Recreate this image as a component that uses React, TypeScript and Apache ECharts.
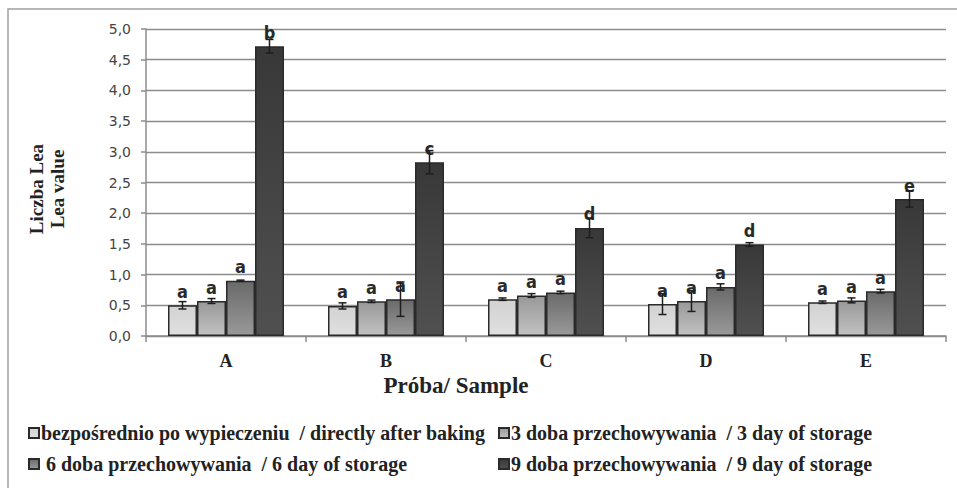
import React, { useEffect, useRef } from "react";
import * as echarts from "echarts";

const categories = ["A", "B", "C", "D", "E"];
const seriesNames = [
  "bezpośrednio po wypieczeniu  / directly after baking",
  "3 doba przechowywania  / 3 day of storage",
  " 6 doba przechowywania  / 6 day of storage",
  "9 doba przechowywania  / 9 day of storage",
];
const values0 = [0.5, 0.49, 0.6, 0.52, 0.55];
const values1 = [0.57, 0.565, 0.66, 0.57, 0.58];
const values2 = [0.9, 0.6, 0.71, 0.8, 0.73];
const values3 = [4.72, 2.83, 1.76, 1.49, 2.23];
const errors0 = [0.06, 0.05, 0.02, 0.17, 0.02];
const errors1 = [0.04, 0.02, 0.03, 0.17, 0.04];
const errors2 = [0.01, 0.28, 0.02, 0.05, 0.03];
const errors3 = [0.11, 0.19, 0.16, 0.03, 0.13];
const letters0 = ["a", "a", "a", "a", "a"];
const letters1 = ["a", "a", "a", "a", "a"];
const letters2 = ["a", "a", "a", "a", "a"];
const letters3 = ["b", "c", "d", "d", "e"];
const yTicks = ["0,0", "0,5", "1,0", "1,5", "2,0", "2,5", "3,0", "3,5", "4,0", "4,5", "5,0"];

const allValues = [values0, values1, values2, values3];
const allErrors = [errors0, errors1, errors2, errors3];
const allLetters = [letters0, letters1, letters2, letters3];

const CAT_GAP = 0.275;

export default function App() {
  const ref = useRef<HTMLDivElement>(null);
  useEffect(() => {
    if (!ref.current) return;
    const chart = echarts.init(ref.current, null, { renderer: "svg" });
    const grad = (a: string, b: string) =>
      new echarts.graphic.LinearGradient(0, 0, 0, 1, [
        { offset: 0, color: a },
        { offset: 1, color: b },
      ]);
    const fills = [
      grad("#d2d2d2", "#e0e0e0"),
      grad("#989898", "#c2c2c2"),
      grad("#6a6a6a", "#999999"),
      grad("#383838", "#505050"),
    ];
    const serif = "Liberation Serif";
    const barSeries = allValues.map((vals, si) => ({
      type: "bar",
      name: seriesNames[si],
      data: vals,
      barGap: "0%",
      barCategoryGap: (CAT_GAP * 100).toFixed(1) + "%",
      itemStyle: { color: fills[si], borderColor: "#2a2a2a", borderWidth: 1.5 },
      label: {
        show: true,
        position: "top",
        distance: 5,
        formatter: (p: any) => allLetters[si][p.dataIndex],
        fontFamily: "DejaVu Sans Condensed",
        fontWeight: 600,
        fontSize: 18,
        color: "#2a2a2a",
      },
    }));
    const errData: number[][] = [];
    allValues.forEach((vals, si) =>
      vals.forEach((v, ci) => errData.push([ci, si, v, allErrors[si][ci]]))
    );
    const errSeries = {
      type: "custom",
      name: "err",
      data: errData,
      z: 10,
      encode: { x: 0, y: 2 },
      renderItem: (params: any, api: any) => {
        const ci = api.value(0);
        const si = api.value(1);
        const v = api.value(2);
        const e = api.value(3);
        const band = api.size([1, 0])[0];
        const bw = (band * (1 - CAT_GAP)) / 4;
        const c = api.coord([ci, v]);
        const x = c[0] + (si - 1.5) * bw;
        const yt = api.coord([ci, v + e])[1];
        const yb = api.coord([ci, v - e])[1];
        const st = { stroke: "#1e1e1e", lineWidth: 1.5 };
        return {
          type: "group",
          children: [
            { type: "line", shape: { x1: x, y1: yt, x2: x, y2: yb }, style: st },
            { type: "line", shape: { x1: x - 4, y1: yt, x2: x + 4, y2: yt }, style: st },
            { type: "line", shape: { x1: x - 4, y1: yb, x2: x + 4, y2: yb }, style: st },
          ],
        };
      },
    };
    const legendPos = [
      { left: 28, top: 423 },
      { left: 498, top: 423 },
      { left: 28, top: 454 },
      { left: 498, top: 454 },
    ];
    const legends = seriesNames.map((n, i) => ({
      data: [n],
      left: legendPos[i].left,
      top: legendPos[i].top,
      orient: "horizontal",
      itemWidth: 10,
      itemHeight: 10,
      itemGap: 0,
      padding: 0,
      selectedMode: false,
      icon: "rect",
      textStyle: { fontFamily: serif, fontWeight: "bold", fontSize: 20, color: "#222", padding: [0, 0, 0, -3] },
    }));
    chart.setOption({
      animation: false,
      backgroundColor: "#ffffff",
      grid: { left: 146, right: 11, top: 29, bottom: 152, containLabel: false },
      legend: legends,
      xAxis: {
        type: "category",
        data: categories,
        axisLine: { show: true, lineStyle: { color: "#8c8c8c", width: 1.5 } },
        axisTick: { show: true, alignWithLabel: false, length: 6, lineStyle: { color: "#8c8c8c", width: 1.5 } },
        axisLabel: { fontFamily: serif, fontWeight: "bold", fontSize: 18, color: "#222", margin: 16 },
      },
      yAxis: {
        type: "value",
        min: 0,
        max: 5,
        interval: 0.5,
        axisLine: { show: true, lineStyle: { color: "#8c8c8c", width: 1.5 } },
        axisTick: { show: true, length: 5, lineStyle: { color: "#8c8c8c", width: 1.5 } },
        splitLine: { show: true, lineStyle: { color: "#8c8c8c", width: 1.3 } },
        axisLabel: {
          fontFamily: "DejaVu Sans",
          fontSize: 14,
          color: "#444",
          margin: 15,
          formatter: (v: number) => yTicks[Math.round(v / 0.5)],
        },
      },
      graphic: [
        {
          type: "rect",
          shape: { x: 8, y: 9, width: 1000, height: 600 },
          style: { fill: "none", stroke: "#a0a0a0", lineWidth: 1.5 },
          silent: true,
          z: -10,
        },
        {
          type: "text",
          x: 47,
          y: 189,
          rotation: Math.PI / 2,
          style: {
            text: "Liczba Lea\nLea value",
            fontFamily: serif,
            fontWeight: "bold",
            fontSize: 19,
            lineHeight: 21,
            fill: "#222",
            align: "center",
            verticalAlign: "middle",
          },
        },
        {
          type: "text",
          x: 456,
          y: 385,
          style: {
            text: "Próba/ Sample",
            fontFamily: serif,
            fontWeight: "bold",
            fontSize: 23,
            fill: "#222",
            align: "center",
            verticalAlign: "middle",
          },
        },
      ],
      series: [...barSeries, errSeries],
    });
    return () => chart.dispose();
  }, []);
  return (
    <div
      ref={ref}
      style={{ position: "fixed", left: 0, top: 0, width: 957, height: 488, background: "#fff" }}
    />
  );
}
